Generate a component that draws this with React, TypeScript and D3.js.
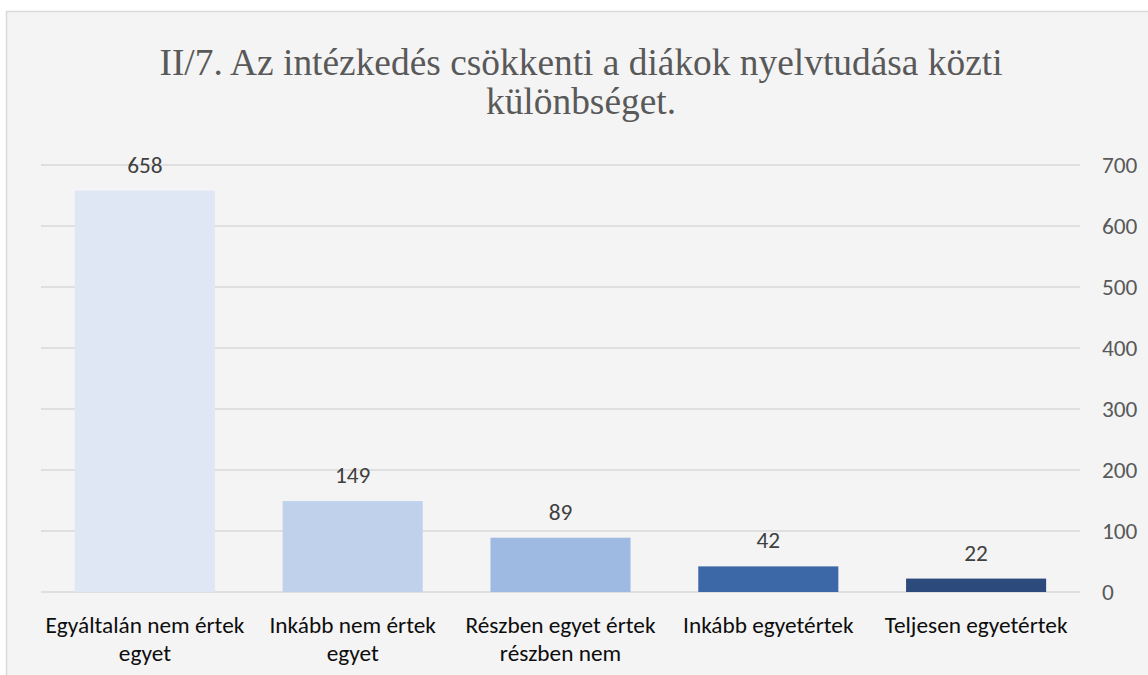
import React from "react";
import * as d3 from "d3";

const titleLines = [
  "II/7. Az intézkedés csökkenti a diákok nyelvtudása közti",
  "különbséget.",
];
const categories = [
  ["Egyáltalán nem értek", "egyet"],
  ["Inkább nem értek", "egyet"],
  ["Részben egyet értek", "részben nem"],
  ["Inkább egyetértek"],
  ["Teljesen egyetértek"],
];
const values = [658, 149, 89, 42, 22];
const barColors = ["#dfe7f5", "#c0d1ec", "#9fbae2", "#3d68a8", "#2c4a7c"];
const yTicks = [0, 100, 200, 300, 400, 500, 600, 700];

const W = 1148;
const H = 675;
const plot = { left: 41, right: 1080, top: 165, bottom: 592 };
const sansFont = "Carlito, Lato, 'Open Sans', sans-serif";
const fs = 23.3;

export default function App() {
  const x = d3
    .scaleBand<number>()
    .domain(values.map((_, i) => i))
    .range([plot.left, plot.right])
    .paddingInner(0.326)
    .paddingOuter(0.163);
  const y = d3.scaleLinear().domain([0, 700]).range([plot.bottom, plot.top]);

  return (
    <svg
      width={W}
      height={H}
      style={{ position: "absolute", left: 0, top: 0, background: "#ffffff" }}
    >
      <rect x={6.5} y={11.5} width={W + 10} height={H + 10} fill="#f4f4f4" stroke="#d9d9d9" strokeWidth={1.5} />
      {titleLines.map((t, i) => (
        <text
          key={i}
          x={581}
          y={75 + i * 39}
          textAnchor="middle"
          fontFamily="'Liberation Serif', 'Times New Roman', serif"
          fontSize={37.4}
          fill="#595959"
        >
          {t}
        </text>
      ))}
      {yTicks.map((t) => (
        <g key={t}>
          <line x1={plot.left} x2={plot.right} y1={y(t)} y2={y(t)} stroke="#d9d9d9" strokeWidth={1.5} />
          <text x={1102} y={y(t) + 8} fontFamily={sansFont} fontSize={fs} fill="#595959">
            {t}
          </text>
        </g>
      ))}
      {values.map((v, i) => (
        <g key={i}>
          <rect x={x(i)} y={y(v)} width={x.bandwidth()} height={y(0) - y(v)} fill={barColors[i]} />
          <text
            x={(x(i) as number) + x.bandwidth() / 2}
            y={y(v) - 18}
            textAnchor="middle"
            fontFamily={sansFont}
            fontSize={fs}
            fill="#404040"
          >
            {v}
          </text>
          {categories[i].map((line, j) => (
            <text
              key={j}
              x={(x(i) as number) + x.bandwidth() / 2}
              y={633 + j * 28}
              textAnchor="middle"
              fontFamily={sansFont}
              fontSize={fs}
              fill="#0d0d0d"
            >
              {line}
            </text>
          ))}
        </g>
      ))}
    </svg>
  );
}
